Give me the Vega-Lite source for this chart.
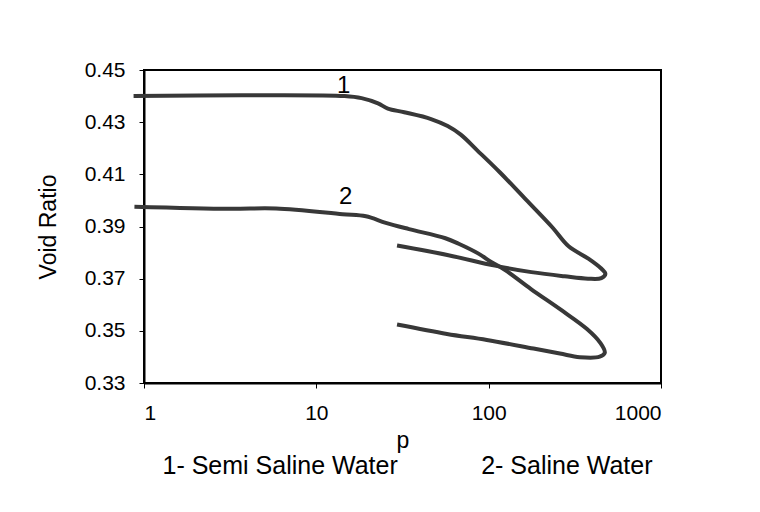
{
  "$schema": "https://vega.github.io/schema/vega-lite/v6.json",
  "width": 517,
  "height": 313,
  "autosize": {"type": "none"},
  "padding": {"left": 144, "top": 70, "right": 99, "bottom": 129},
  "background": "white",
  "title": {
    "text": "1- Semi Saline Water\u00a0\u00a0\u00a0\u00a0\u00a0\u00a0\u00a0\u00a0\u00a0\u00a0\u00a0\u00a02- Saline Water",
    "orient": "bottom",
    "anchor": "middle",
    "frame": "group",
    "font": "Liberation Sans",
    "fontSize": 25,
    "fontWeight": "normal",
    "color": "black",
    "offset": 2,
    "dx": 5
  },
  "datasets": {
    "curves": [
      {"curve": "1", "i": 1, "p": 0.87, "e": 0.4400},
      {"curve": "1", "i": 2, "p": 3.68, "e": 0.4403},
      {"curve": "1", "i": 3, "p": 14.6, "e": 0.4400},
      {"curve": "1", "i": 4, "p": 18.3, "e": 0.4392},
      {"curve": "1", "i": 5, "p": 22.8, "e": 0.4372},
      {"curve": "1", "i": 6, "p": 26.0, "e": 0.4352},
      {"curve": "1", "i": 7, "p": 32.4, "e": 0.4338},
      {"curve": "1", "i": 8, "p": 46.3, "e": 0.4312},
      {"curve": "1", "i": 9, "p": 57.8, "e": 0.4285},
      {"curve": "1", "i": 10, "p": 68.9, "e": 0.4252},
      {"curve": "1", "i": 11, "p": 85.8, "e": 0.4192},
      {"curve": "1", "i": 12, "p": 116.4, "e": 0.4107},
      {"curve": "1", "i": 13, "p": 165.2, "e": 0.4002},
      {"curve": "1", "i": 14, "p": 233.9, "e": 0.3897},
      {"curve": "1", "i": 15, "p": 291, "e": 0.3824},
      {"curve": "1", "i": 16, "p": 379, "e": 0.3777},
      {"curve": "1", "i": 17, "p": 451.6, "e": 0.3738},
      {"curve": "1", "i": 18, "p": 475.7, "e": 0.3718},
      {"curve": "1", "i": 19, "p": 450.5, "e": 0.3702},
      {"curve": "1", "i": 20, "p": 377, "e": 0.3700},
      {"curve": "1", "i": 21, "p": 276, "e": 0.3709},
      {"curve": "1", "i": 22, "p": 177, "e": 0.3725},
      {"curve": "1", "i": 23, "p": 108.7, "e": 0.3750},
      {"curve": "1", "i": 24, "p": 58.4, "e": 0.3790},
      {"curve": "1", "i": 25, "p": 29.4, "e": 0.3827},
      {"curve": "2", "i": 1, "p": 0.88, "e": 0.3976},
      {"curve": "2", "i": 2, "p": 3.13, "e": 0.3968},
      {"curve": "2", "i": 3, "p": 5.84, "e": 0.3969},
      {"curve": "2", "i": 4, "p": 14.2, "e": 0.3947},
      {"curve": "2", "i": 5, "p": 19.4, "e": 0.3939},
      {"curve": "2", "i": 6, "p": 25.3, "e": 0.3914},
      {"curve": "2", "i": 7, "p": 34.5, "e": 0.3890},
      {"curve": "2", "i": 8, "p": 56.1, "e": 0.3855},
      {"curve": "2", "i": 9, "p": 67, "e": 0.3834},
      {"curve": "2", "i": 10, "p": 87.3, "e": 0.3796},
      {"curve": "2", "i": 11, "p": 104, "e": 0.3763},
      {"curve": "2", "i": 12, "p": 124, "e": 0.3734},
      {"curve": "2", "i": 13, "p": 176, "e": 0.3660},
      {"curve": "2", "i": 14, "p": 262, "e": 0.3581},
      {"curve": "2", "i": 15, "p": 372, "e": 0.3507},
      {"curve": "2", "i": 16, "p": 443, "e": 0.3455},
      {"curve": "2", "i": 17, "p": 472, "e": 0.3416},
      {"curve": "2", "i": 18, "p": 441, "e": 0.3401},
      {"curve": "2", "i": 19, "p": 338, "e": 0.3399},
      {"curve": "2", "i": 20, "p": 259, "e": 0.3413},
      {"curve": "2", "i": 21, "p": 182, "e": 0.3432},
      {"curve": "2", "i": 22, "p": 97.6, "e": 0.3465},
      {"curve": "2", "i": 23, "p": 57.3, "e": 0.3488},
      {"curve": "2", "i": 24, "p": 29.4, "e": 0.3524}
    ],
    "labels": [
      {"label": "1", "p": 14.4, "e": 0.4440},
      {"label": "2", "p": 14.8, "e": 0.4015}
    ]
  },
  "layer": [
    {
      "data": {"name": "curves"},
      "mark": {"type": "line", "interpolate": "catmull-rom", "stroke": "#383838", "strokeWidth": 4},
      "encoding": {
        "x": {
          "field": "p",
          "type": "quantitative",
          "scale": {"type": "log", "domain": [1, 1000], "nice": false},
          "axis": {"values": [1, 10, 100, 1000], "format": "d", "title": "p", "titlePadding": 6}
        },
        "y": {
          "field": "e",
          "type": "quantitative",
          "scale": {"domain": [0.33, 0.45], "nice": false, "zero": false},
          "axis": {"values": [0.33, 0.35, 0.37, 0.39, 0.41, 0.43, 0.45], "format": ".2f", "title": "Void Ratio", "titlePadding": 24}
        },
        "detail": {"field": "curve"},
        "order": {"field": "i", "type": "quantitative"}
      }
    },
    {
      "data": {"name": "labels"},
      "mark": {"type": "text", "font": "Liberation Sans", "fontSize": 24, "color": "black", "align": "center", "baseline": "middle"},
      "encoding": {
        "x": {"field": "p", "type": "quantitative"},
        "y": {"field": "e", "type": "quantitative"},
        "text": {"field": "label"}
      }
    }
  ],
  "config": {
    "view": {"stroke": "black", "strokeWidth": 2},
    "axis": {
      "grid": false,
      "domainColor": "black",
      "domainWidth": 2,
      "tickColor": "black",
      "tickWidth": 1,
      "tickSize": 5,
      "labelFont": "Liberation Sans",
      "labelFontSize": 21,
      "labelColor": "black",
      "labelPadding": 14,
      "titleFont": "Liberation Sans",
      "titleFontSize": 23,
      "titleFontWeight": "normal",
      "titleColor": "black"
    }
  }
}
